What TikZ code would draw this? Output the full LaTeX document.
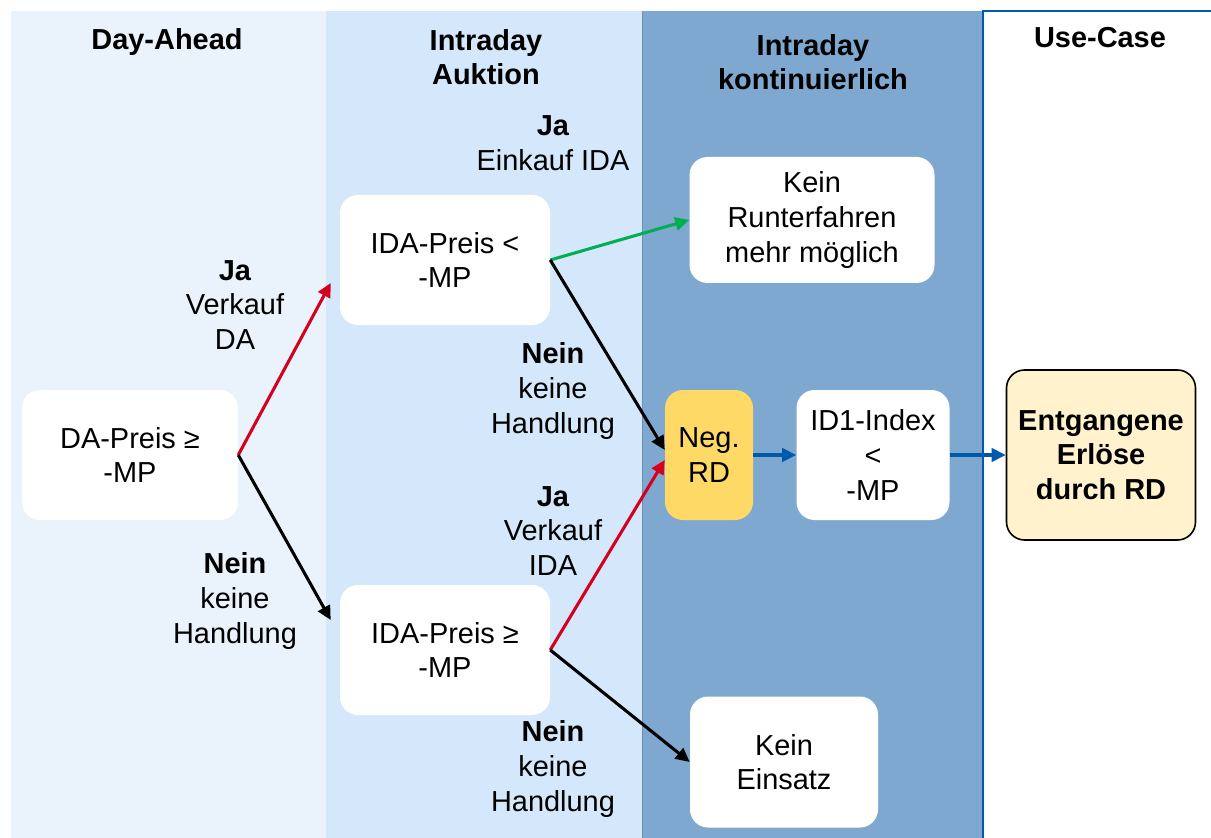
\documentclass[tikz,border=0pt]{standalone}
\usepackage{fontspec}
\setmainfont{Liberation Sans}
\usetikzlibrary{arrows.meta,calc}
\definecolor{colA}{RGB}{234,242,251}
\definecolor{colB}{RGB}{213,232,251}
\definecolor{colC}{RGB}{127,168,208}
\definecolor{lineblue}{RGB}{0,90,170}
\definecolor{arrred}{RGB}{212,0,30}
\definecolor{arrgreen}{RGB}{0,176,80}
\definecolor{negyellow}{RGB}{255,217,102}
\definecolor{lightyellow}{RGB}{255,242,204}
\begin{document}
\begin{tikzpicture}[x=0.75pt,y=-0.75pt,
  every node/.style={font=\fontsize{21.7pt}{26pt}\selectfont, align=center, inner sep=0pt},
  box/.style={fill=white, rounded corners=13.5pt, minimum height=97.5pt},
  hdr/.style={font=\fontsize{21.7pt}{26pt}\selectfont\bfseries},
  lab/.style={},
  arr/.style={line width=2.3pt, -{Triangle[length=10.5pt,width=10pt]}},
]
\useasboundingbox (0,0) rectangle (1211,838);
% columns
\fill[colA] (11,11) rectangle (326,838);
\fill[colB] (326,11) rectangle (642,838);
\fill[colC] (642,11) rectangle (983,838);
\draw[colC!85!black, line width=0.5pt] (642,11) -- (642,838);
\draw[lineblue, line width=2pt] (983,838) -- (983,11) -- (1211,11);
% headers
\node[hdr] (h1) at (167,42) {Day-Ahead};
\node[hdr] (h2) at (486,57) {Intraday\\Auktion};
\node[hdr] (h3) at (813,62) {Intraday\\kontinuierlich};
\node[hdr] (h4) at (1100,38) {Use-Case};
% boxes
\node[box, minimum width=162pt] (da) at (130,455) {DA-Preis ≥\\-MP};
\node[box, minimum width=157.5pt] (ida1) at (445,260) {IDA-Preis <\\-MP};
\node[box, minimum width=157.5pt] (ida2) at (445,650) {IDA-Preis ≥\\-MP};
\node[box, minimum width=183.75pt, minimum height=94.5pt] (kein1) at (812,220) {Kein\\Runterfahren\\mehr möglich};
\node[box, fill=negyellow, minimum width=66pt] (neg) at (709,455) {Neg.\\RD};
\node[box, minimum width=114.75pt] (id1) at (873,455) {ID1-Index\\<\\-MP};
\node[box, fill=lightyellow, draw=black, line width=1.2pt, minimum width=141.75pt, minimum height=127.5pt, font=\fontsize{21.7pt}{26pt}\selectfont\bfseries] (ent) at (1101,455) {Entgangene\\Erlöse\\durch RD};
\node[box, minimum width=141pt, minimum height=98.25pt] (kein2) at (784,762) {Kein\\Einsatz};
% labels
\node[lab] (l1) at (235,305) {\textbf{Ja}\\Verkauf\\DA};
\node[lab] (l2) at (235,601) {\textbf{Nein}\\keine\\Handlung};
\node[lab] (l3) at (553,143) {\textbf{Ja}\\Einkauf IDA};
\node[lab] (l4) at (553,391) {\textbf{Nein}\\keine\\Handlung};
\node[lab] (l5) at (553,531) {\textbf{Ja}\\Verkauf\\IDA};
\node[lab] (l6) at (553,769) {\textbf{Nein}\\keine\\Handlung};
% arrows
\draw[arr, arrred] (da.east) -- ($(ida1.west)+(-9,23)$);
\draw[arr, black] (da.east) -- ($(ida2.west)+(-9,-30)$);
\draw[arr, arrgreen] (ida1.east) -- (kein1.west);
\draw[arr, black] (ida1.east) -- ($(neg.west)+(0,-5)$);
\draw[arr, arrred] (ida2.east) -- ($(neg.west)+(0,5)$);
\draw[arr, black] (ida2.east) -- (kein2.west);
\draw[arr, lineblue] (neg.east) -- (id1.west);
\draw[arr, lineblue] (id1.east) -- (ent.west);
\end{tikzpicture}
\end{document}
